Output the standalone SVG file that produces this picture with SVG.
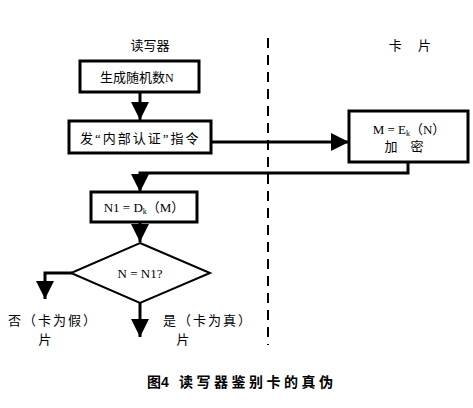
<svg xmlns="http://www.w3.org/2000/svg" width="473" height="408" viewBox="0 0 473 408">
<defs>
<style>
.box{fill:#fff;stroke:#000;stroke-width:3}
.ln{fill:none;stroke:#000;stroke-width:3}
.t{font-family:"Liberation Serif","Noto Sans CJK SC",serif;font-size:13px;fill:#000}
.cap{font-family:"Liberation Sans","Noto Sans CJK SC",sans-serif;font-size:14px;font-weight:bold;fill:#000}
</style>
<marker id="ah" viewBox="0 0 10 10" refX="10" refY="5" markerWidth="6" markerHeight="6" orient="auto" markerUnits="strokeWidth">
<path d="M0,0 L10,5 L0,10 Z" fill="#000"/>
</marker>
</defs>
<rect width="473" height="408" fill="#fff"/>
<text class="t" x="150" y="50" text-anchor="middle">读写器</text>
<text class="t" x="410" y="50" text-anchor="middle">卡　 片</text>
<line x1="268" y1="38" x2="268" y2="345" stroke="#000" stroke-width="2" stroke-dasharray="10,7"/>
<g id="connectors">
<line class="ln" x1="140" y1="92" x2="140" y2="120" marker-end="url(#ah)"/>
<line class="ln" x1="211" y1="142" x2="349" y2="142" marker-end="url(#ah)"/>
<polyline class="ln" points="408,162 408,173 140,173 140,192" marker-end="url(#ah)"/>
<line class="ln" x1="140" y1="222" x2="140" y2="242" marker-end="url(#ah)"/>
<polyline class="ln" points="72,273 45,273 45,299" marker-end="url(#ah)"/>
<line class="ln" x1="140" y1="302" x2="140" y2="337" marker-end="url(#ah)"/>
</g>
<g id="n1">
<rect class="box" x="80" y="61" width="119" height="31"/>
<text class="t" x="100" y="82">生成随机数<tspan font-size="12">N</tspan></text>
</g>
<g id="n2">
<rect class="box" x="69" y="121" width="142" height="32"/>
<text class="t" x="80" y="143" letter-spacing="2">发“内部认证”指令</text>
</g>
<g id="n3">
<rect class="box" x="349" y="111" width="119" height="51"/>
<text class="t" x="409" y="134" text-anchor="middle">M = E<tspan font-size="8" dy="2">k</tspan><tspan dy="-2">（N）</tspan></text>
<text class="t" x="404" y="151" text-anchor="middle">加　密</text>
</g>
<g id="n4">
<rect class="box" x="91" y="192" width="106" height="30"/>
<text class="t" x="144" y="212" text-anchor="middle">N1 = D<tspan font-size="8" dy="2">k</tspan><tspan dy="-2">（M）</tspan></text>
</g>
<g id="n5">
<polygon points="140,243 210,273 140,303 71,273" fill="#fff" stroke="#000" stroke-width="2"/>
<text class="t" x="140" y="278" text-anchor="middle">N = N1?</text>
</g>
<g id="labels">
<text class="t" x="8" y="325" letter-spacing="2">否（卡为假）</text>
<text class="t" x="45" y="344" text-anchor="middle">片</text>
<text class="t" x="163" y="325" letter-spacing="2">是（卡为真）</text>
<text class="t" x="183" y="344" text-anchor="middle">片</text>
</g>
<text class="cap" x="147" y="387">图4<tspan x="179" letter-spacing="3.5">读写器鉴别卡的真伪</tspan></text>
</svg>
